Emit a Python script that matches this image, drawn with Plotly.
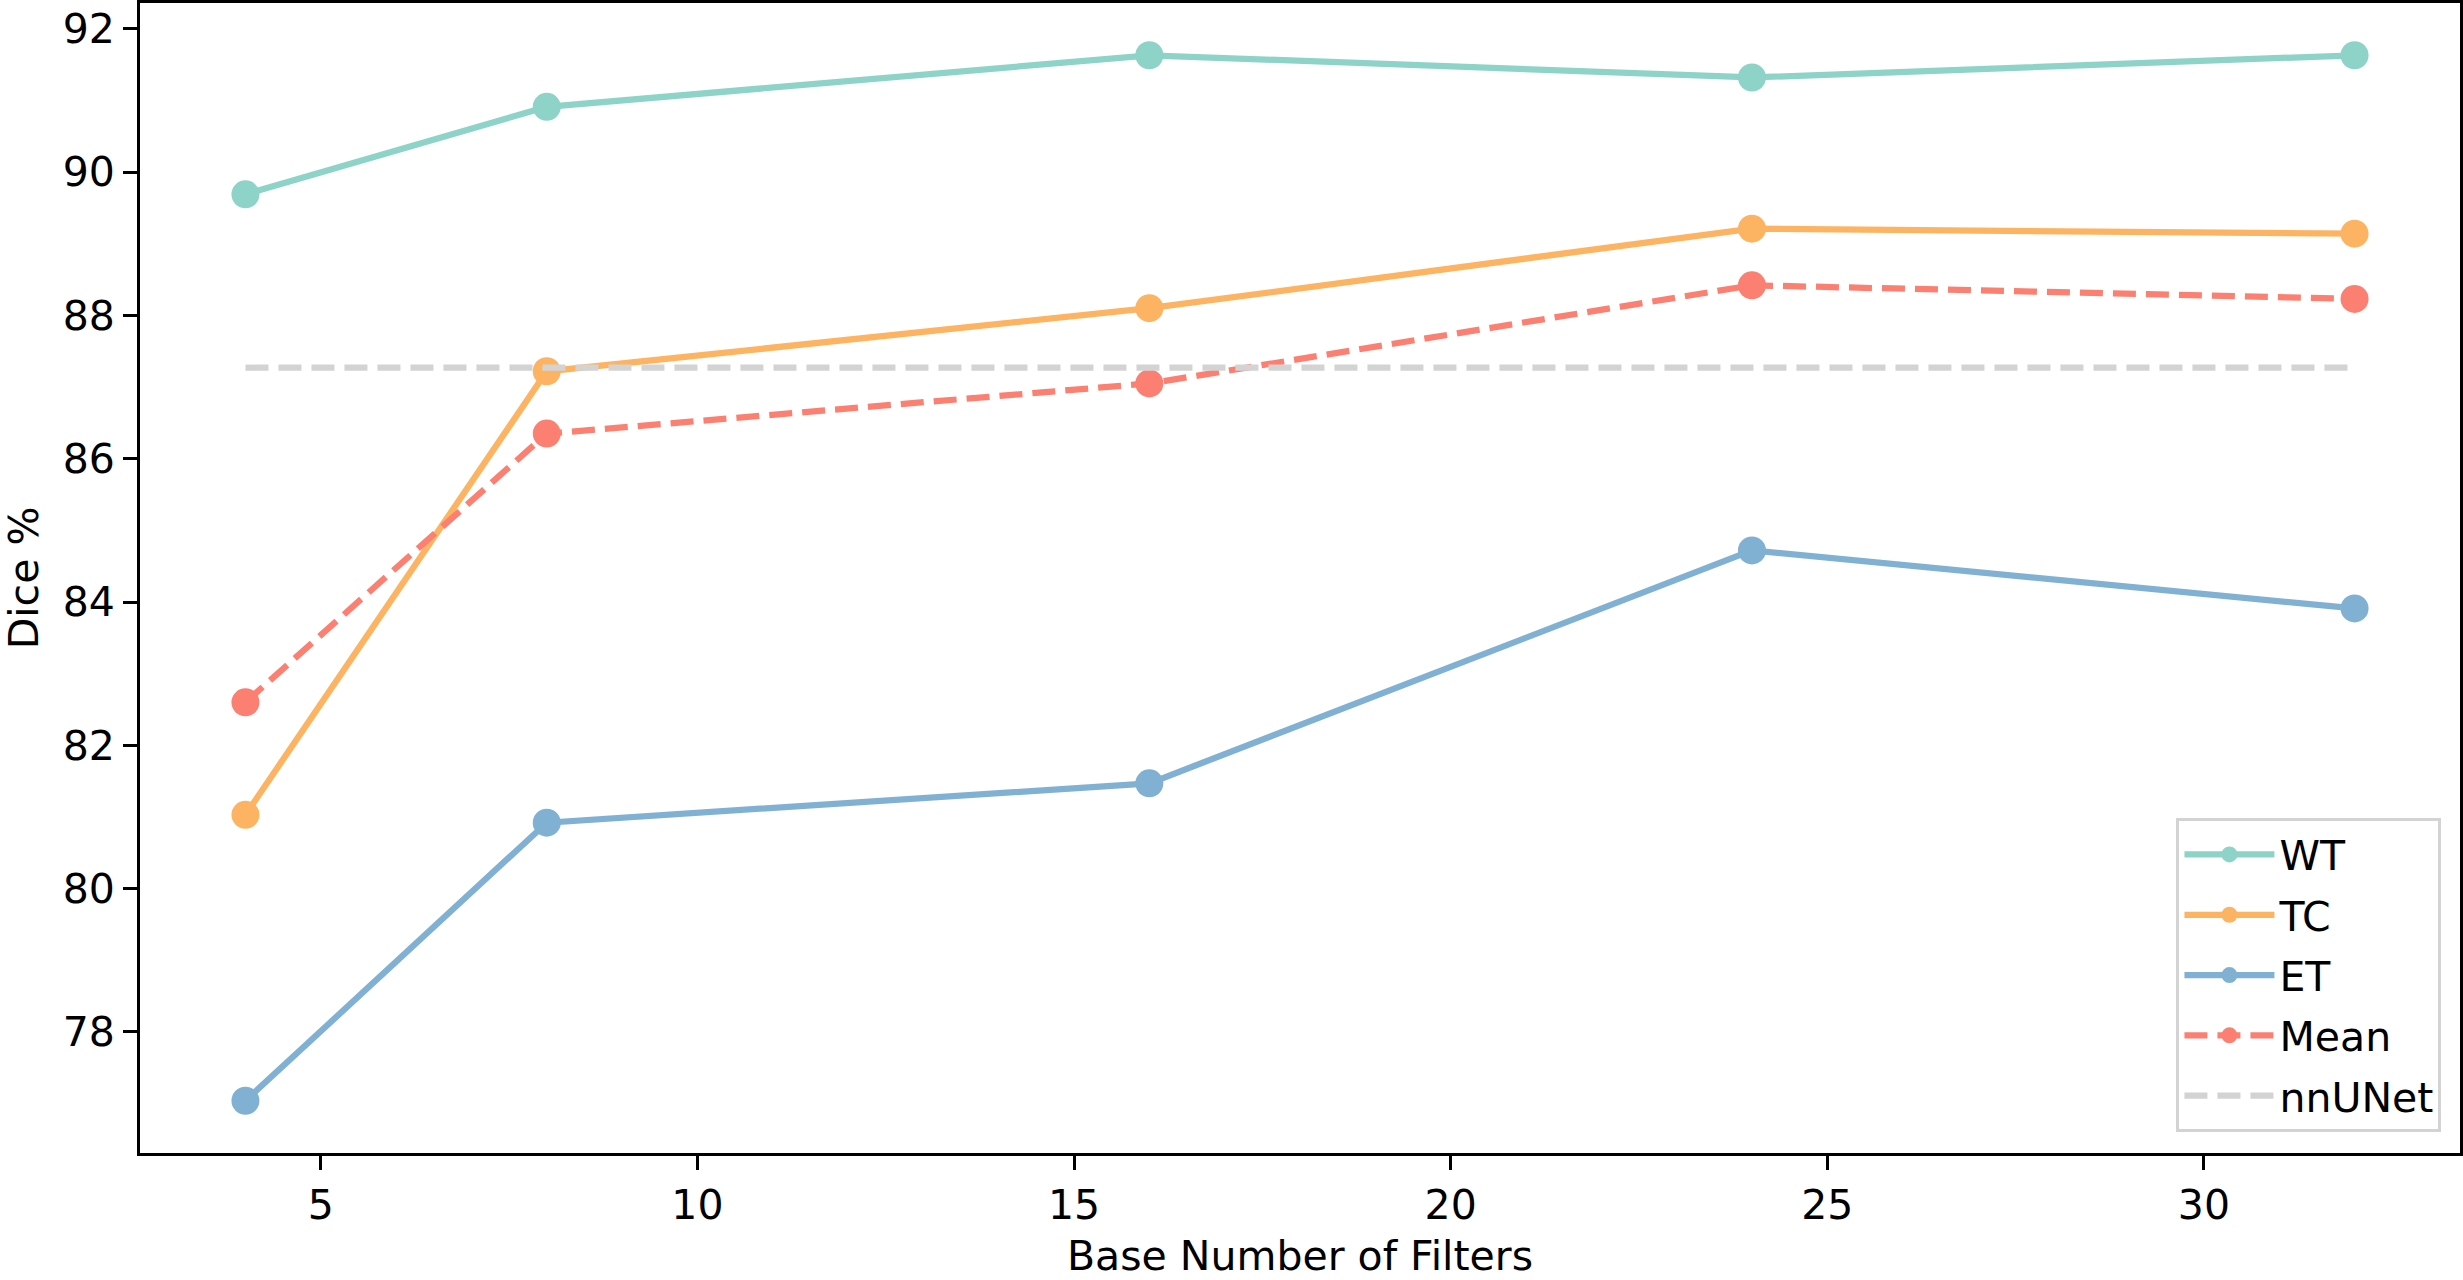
import plotly.graph_objects as go

# Dice scores per base number of filters
filters = [4, 8, 16, 24, 32]
wt = [89.69, 90.91, 91.63, 91.32, 91.63]
tc = [81.03, 87.22, 88.10, 89.21, 89.14]
et = [77.04, 80.92, 81.47, 84.72, 83.91]
mean = [82.60, 86.35, 87.05, 88.42, 88.23]
nnunet = 87.27
nnunet_x = [4, 32]

FONT = "DejaVu Sans"
LW = 6.25
MS = 28
DASH = "23px,10px"

fig = go.Figure()

series = [
    ("WT", wt, "#8dd3c7", "solid"),
    ("TC", tc, "#fdb462", "solid"),
    ("ET", et, "#80b1d3", "solid"),
    ("Mean", mean, "#fb8072", DASH),
]
for name, vals, color, dash in series:
    fig.add_trace(go.Scatter(
        x=filters, y=vals, name=name, legendgroup=name, mode="lines+markers",
        line=dict(color=color, width=LW, dash=dash),
        marker=dict(color=color, size=MS),
    ))

fig.add_trace(go.Scatter(
    x=nnunet_x, y=[nnunet] * len(nnunet_x), name="nnUNet", legendgroup="nnUNet",
    mode="lines", line=dict(color="#d3d3d3", width=LW, dash=DASH),
))

# matplotlib-like 5% padding
xmin, xmax = min(filters), max(filters)
xpad = (xmax - xmin) * 0.05
allv = wt + tc + et + mean + [nnunet]
ymin, ymax = min(allv), max(allv)
ypad = (ymax - ymin) * 0.05

axis_common = dict(
    showline=True, linecolor="black", linewidth=3, mirror=True,
    ticks="outside", ticklen=14, tickwidth=3, tickcolor="black",
    showgrid=False, zeroline=False,
    tickfont=dict(family=FONT, size=41, color="black"),
)

fig.update_xaxes(
    range=[xmin - xpad, xmax + xpad], dtick=5, tick0=0,
    title=dict(text="Base Number of Filters", font=dict(family=FONT, size=41, color="black"), standoff=14),
    **axis_common,
)
fig.update_yaxes(
    range=[ymin - ypad, ymax + ypad], dtick=2, tick0=0,
    title=dict(text="Dice %", font=dict(family=FONT, size=41, color="black"), standoff=14),
    **axis_common,
)

fig.update_layout(
    width=2463, height=1280,
    margin=dict(l=140, r=0, t=0, b=127),
    plot_bgcolor="white", paper_bgcolor="white",
    font=dict(family=FONT, size=41, color="black"),
    legend=dict(
        x=0.992, y=0.018, xanchor="right", yanchor="bottom",
        bgcolor="white", bordercolor="#d3d3d3", borderwidth=3,
        font=dict(family=FONT, size=41, color="black"),
        itemwidth=90, tracegroupgap=4,
    ),
)

fig.write_html("out.html", config={"displayModeBar": False},
               post_script="document.body.style.margin='0';")
